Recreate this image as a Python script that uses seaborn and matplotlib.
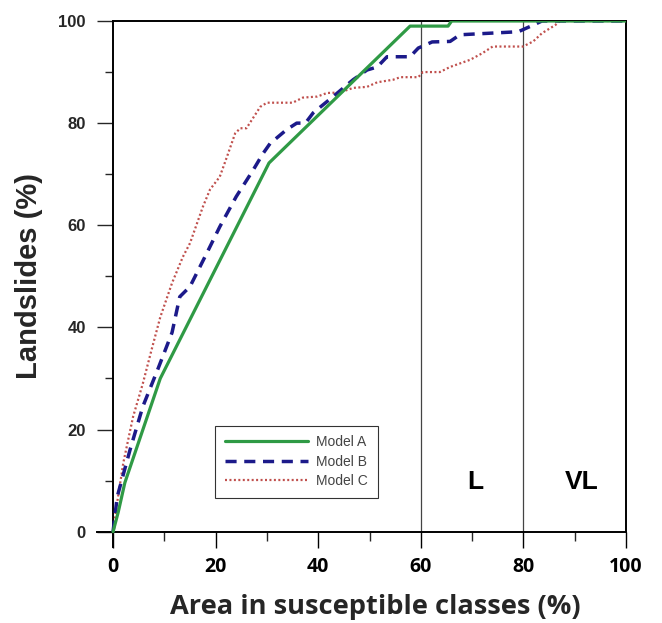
import matplotlib
matplotlib.use("Agg")
import matplotlib.pyplot as plt
import seaborn as sns
import pandas as pd

# ---- data ----
model_a_x = [0, 1.0, 2.3, 9.2, 30.4, 57.9, 65.3, 66.0, 100]
model_a_y = [0, 3.8, 9.6, 30.0, 72.2, 99.0, 99.0, 100, 100]

model_b_x = [0, 0.8, 3.3, 5.8, 8.8, 11.5, 13.0, 15.0, 18.3, 20.8, 24.0, 27.3, 29.2,
             30.6, 33.8, 35.8, 37.5, 39.0, 42.9, 46.8, 49.5, 51.5, 53.4, 57.9,
             59.5, 62.2, 65.7, 67.6, 79.0, 81.9, 83.6, 100]
model_b_y = [0, 6.8, 16.0, 24.5, 32.0, 39.0, 46.0, 48.0, 54.6, 59.7, 65.6, 70.8, 74.0,
             76.0, 78.7, 80.0, 80.0, 82.0, 85.2, 88.5, 90.4, 91.0, 93.0, 93.0,
             94.7, 95.9, 96.0, 97.3, 97.9, 99.2, 100, 100]

model_c_x = [0, 0.8, 2.0, 3.9, 5.8, 7.5, 9.2, 11.5, 13.6, 15.0, 17.5, 18.9, 20.8,
             22.2, 23.8, 24.8, 26.0, 28.7, 30.0, 35.0, 37.0, 39.8, 41.7, 44.2,
             46.8, 49.5, 51.5, 54.6, 56.0, 59.5, 60.4, 63.7, 65.7, 69.6, 72.0,
             74.0, 79.9, 81.9, 83.6, 86.2, 87.1, 100]
model_c_y = [0, 5.7, 13.5, 22.5, 29.0, 35.6, 42.0, 48.7, 53.8, 56.5, 63.6, 67.0, 69.5,
             73.4, 78.0, 79.0, 79.0, 83.2, 84.0, 84.0, 85.0, 85.2, 85.9, 86.0,
             86.9, 87.1, 88.0, 88.5, 89.0, 89.0, 90.0, 90.0, 91.0, 92.4, 93.7,
             95.0, 95.0, 96.0, 97.6, 99.2, 100, 100]

x_ticks = [0, 20, 40, 60, 80, 100]
y_ticks = [0, 20, 40, 60, 80, 100]
class_lines = [60, 80]
class_labels = ["L", "VL"]
class_label_x = [70.6, 91.4]

sns.set_style("white")
plt.rcParams['font.family'] = ['Liberation Sans', 'DejaVu Sans']

fig = plt.figure(figsize=(6.62, 6.23), dpi=100)
ax = fig.add_axes([0.146, 0.122, 0.7997, 0.8443])

df_a = pd.DataFrame({"x": model_a_x, "y": model_a_y})
df_b = pd.DataFrame({"x": model_b_x, "y": model_b_y})
df_c = pd.DataFrame({"x": model_c_x, "y": model_c_y})

sns.lineplot(data=df_a, x="x", y="y", ax=ax, estimator=None, sort=False,
             color="#2f9a45", lw=2.3, label="Model A", zorder=5)
sns.lineplot(data=df_b, x="x", y="y", ax=ax, estimator=None, sort=False,
             color="#1c1a8a", lw=2.5, label="Model B", zorder=4)
l_b = ax.lines[-1]
l_b.set_dashes((3.2, 2.2))
sns.lineplot(data=df_c, x="x", y="y", ax=ax, estimator=None, sort=False,
             color="#c0504d", lw=1.6, label="Model C", zorder=3)
l_c = ax.lines[-1]
l_c.set_dashes((0.9, 1.1))

for xv in class_lines:
    ax.plot([xv, xv], [0, 100], color="#444444", lw=0.9, zorder=2)
for lab, xv in zip(class_labels, class_label_x):
    ax.text(xv, 9.8, lab, ha="center", va="center", fontsize=19,
            fontweight="bold", color="black")

ax.set_xlim(-3.2, 100)
ax.set_ylim(-3, 100)
ax.spines['left'].set_position(('data', 0))
ax.spines['bottom'].set_position(('data', 0))
ax.spines['left'].set_bounds(-3, 100)
ax.spines['bottom'].set_bounds(-3.2, 100)
ax.spines['top'].set_bounds(0, 100)
ax.spines['right'].set_bounds(0, 100)
for s in ax.spines.values():
    s.set_color("black")
    s.set_linewidth(1.4)

ax.set_xticks(x_ticks)
ax.set_xticks([10, 30, 50, 70, 90], minor=True)
ax.set_yticks(y_ticks)
ax.set_yticks([10, 30, 50, 70, 90], minor=True)
ax.tick_params(axis='x', which='major', direction='out', length=11.5, width=1.0,
               bottom=True, pad=7, colors="black")
ax.tick_params(axis='x', which='minor', direction='out', length=6.5, width=1.0,
               bottom=True)
ax.tick_params(axis='y', which='major', direction='out', length=11.5, width=1.0,
               left=True, pad=8)
ax.tick_params(axis='y', which='minor', direction='out', length=6, width=1.0,
               left=True)
ax.set_xticklabels([str(v) for v in x_ticks], fontsize=14, fontweight='bold',
                   family=['Open Sans', 'DejaVu Sans'])
ax.set_yticklabels([str(v) for v in y_ticks], fontsize=12, fontweight='bold')

ax.set_xlabel("Area in susceptible classes (%)", fontsize=19.6, fontweight='bold',
              family=['Open Sans', 'DejaVu Sans'])
ax.xaxis.set_label_coords(0.526, -0.09)
ax.set_ylabel("Landslides (%)", fontsize=21, fontweight='bold')
ax.yaxis.set_label_coords(-0.101, 0.515)

leg = ax.legend(loc="lower left", bbox_to_anchor=(0.2235, 0.093), fontsize=10,
                frameon=True, fancybox=False, shadow=False, handlelength=6.0,
                handletextpad=0.6, borderpad=0.7, labelspacing=0.4,
                borderaxespad=0)
leg.get_frame().set_edgecolor("black")
leg.get_frame().set_linewidth(0.8)
for t in leg.get_texts():
    t.set_color("#444444")

fig.savefig("out.png", dpi=100)
